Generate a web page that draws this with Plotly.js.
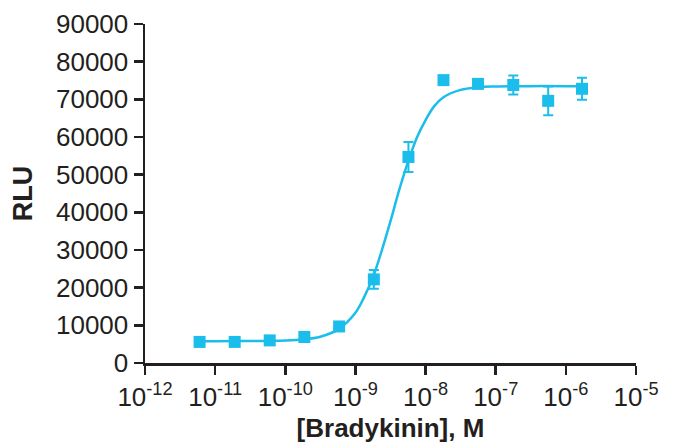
<!DOCTYPE html>
<html>
<head>
<meta charset="utf-8">
<script src="https://cdn.plot.ly/plotly-3.0.1.min.js"></script>
<style>
html,body{margin:0;padding:0;background:#fff;}
#chart{width:684px;height:445px;}
</style>
</head>
<body>
<div id="chart"></div>
<script>
// Concentrations (M) of the measured points
const concentrations = [6.0e-12, 1.9e-11, 6.0e-11, 1.87e-10, 5.85e-10, 1.83e-9, 5.7e-9, 1.8e-8, 5.6e-8, 1.78e-7, 5.6e-7, 1.7e-6];
// Mean RLU
const rluMean = [5600, 5600, 6000, 6900, 9700, 22200, 54700, 75100, 74100, 73800, 69600, 72800];
// Error (SD)
const rluError = [300, 300, 400, 500, 600, 2500, 4000, 600, 700, 2500, 3800, 2900];

// Fitted curve
const curveX = [6.0e-12, 1e-11, 3.16e-11, 1e-10, 1.78e-10, 3.16e-10, 5.62e-10, 1e-9, 1.33e-9, 1.78e-9, 2.37e-9, 3.16e-9, 4.22e-9, 5.62e-9, 7.5e-9, 1e-8, 1.33e-8, 1.78e-8, 3.16e-8, 5.62e-8, 1e-7, 3.16e-7, 1e-6, 1.8e-6];
const curveY = [5800, 5800, 5830, 5970, 6250, 6980, 8850, 13360, 17500, 22770, 29800, 37660, 46000, 53380, 59800, 64500, 68200, 70500, 72500, 73200, 73400, 73500, 73500, 73500];

// Axis ticks
const xTickVals = [1e-12, 1e-11, 1e-10, 1e-9, 1e-8, 1e-7, 1e-6, 1e-5];
const xTickText = ['10<sup>-12</sup>', '10<sup>-11</sup>', '10<sup>-10</sup>', '10<sup>-9</sup>', '10<sup>-8</sup>', '10<sup>-7</sup>', '10<sup>-6</sup>', '10<sup>-5</sup>'];
const yTickVals = [0, 10000, 20000, 30000, 40000, 50000, 60000, 70000, 80000, 90000];

const blue = '#1bbdeb';
const ink = '#231f20';

const traces = [
  {
    x: curveX, y: curveY, type: 'scatter', mode: 'lines',
    line: {color: blue, width: 2.5, shape: 'spline', smoothing: 1},
    hoverinfo: 'skip', showlegend: false
  },
  {
    x: concentrations, y: rluMean, type: 'scatter', mode: 'markers',
    marker: {symbol: 'square', size: 12, color: blue},
    error_y: {type: 'data', array: rluError, visible: true, color: blue, thickness: 2, width: 5},
    showlegend: false
  }
];

const layout = {
  width: 684, height: 445,
  margin: {l: 145, r: 48, t: 24, b: 82},
  paper_bgcolor: '#fff', plot_bgcolor: '#fff',
  font: {family: '"Liberation Sans", Arial, sans-serif', color: ink, size: 26},
  xaxis: {
    type: 'log', range: [-12, -5],
    tickmode: 'array', tickvals: xTickVals, ticktext: xTickText,
    ticks: 'outside', ticklen: 9, tickwidth: 2.5, tickcolor: ink,
    showline: true, linecolor: ink, linewidth: 2.5,
    showgrid: false, zeroline: false,
    tickfont: {size: 26, color: ink},
    title: {text: '<b>[Bradykinin], M</b>', font: {size: 26, color: ink}, standoff: 8}
  },
  yaxis: {
    range: [0, 90000],
    tickmode: 'array', tickvals: yTickVals, ticktext: yTickVals.map(String),
    ticks: 'outside', ticklen: 9, tickwidth: 2.5, tickcolor: ink,
    showline: true, linecolor: ink, linewidth: 2.5,
    showgrid: false, zeroline: false,
    tickfont: {size: 26, color: ink},
    title: {text: '<b>RLU</b>', font: {size: 27, color: ink}, standoff: 16}
  }
};

Plotly.newPlot('chart', traces, layout, {displayModeBar: false, staticPlot: true});
</script>
</body>
</html>
